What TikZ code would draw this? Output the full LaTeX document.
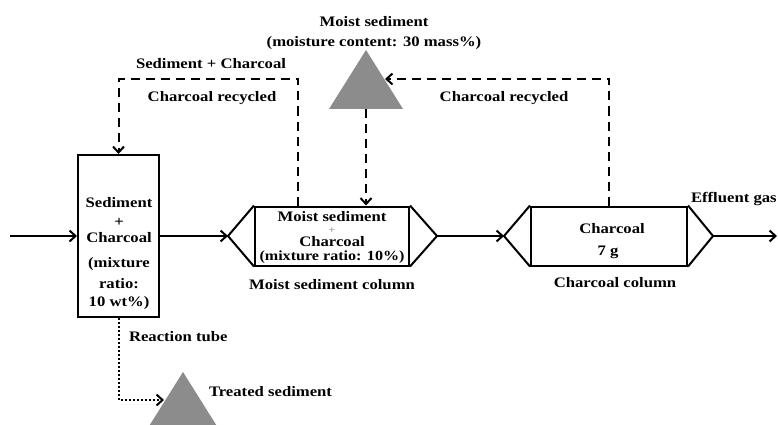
\documentclass[tikz,border=0pt]{standalone}
\usepackage{fontspec}
\setmainfont{Liberation Serif}[FakeStretch=1.15]
\usetikzlibrary{arrows.meta}
\begin{document}
\begin{tikzpicture}[x=1pt,y=-1pt,
  line width=2pt,
  arr/.style={-{Straight Barb[length=6pt,width=11pt,line width=2pt]}},
  dsh/.style={dash pattern=on 9pt off 6pt},
  dtt/.style={dash pattern=on 2pt off 2pt},
  box/.style={draw,line width=2pt,minimum height=59pt,inner sep=0pt},
  txt/.style={font=\fontsize{14.5}{16}\selectfont\bfseries,inner sep=0pt},
  tri/.style={fill=black!45,draw=none}
]
\useasboundingbox (0,0) rectangle (778,425);
\clip (0,0) rectangle (778,425);
% boxes
\node[box,minimum width=81pt,minimum height=162pt] (rt) at (118.5,236) {};
\node[box,minimum width=154pt] (mc) at (332,236) {};
\node[box,minimum width=156pt] (cc) at (609,236) {};
\coordinate (mcL) at (228,236); \coordinate (mcR) at (437,236);
\coordinate (ccL) at (504,236); \coordinate (ccR) at (713,236);
\draw (mc.north west) -- (mcL) -- (mc.south west);
\draw (mc.north east) -- (mcR) -- (mc.south east);
\draw (cc.north west) -- (ccL) -- (cc.south west);
\draw (cc.north east) -- (ccR) -- (cc.south east);
% triangles
\coordinate (msA) at (366,50); \coordinate (msB) at (366,109);
\fill[tri] (msA) -- (403,109) -- (329,109) -- cycle;
\coordinate (tsA) at (183,372);
\fill[tri] (tsA) -- (220,431) -- (146,431) -- cycle;
% connectors
\coordinate (in) at (10,236);
\coordinate (out) at (777,236);
\draw[arr] (in) -- (rt.west);
\draw[arr] (rt.east) -- (mcL);
\draw[arr] (mcR) -- (ccL);
\draw[arr] (ccR) -- (out);
\draw[arr,dsh] (msB) -- (msB |- mc.north);
\coordinate (c1) at (298,79);
\draw[arr,dsh] (c1 |- mc.north) -- (c1) -- (c1 -| rt.north) -- (rt.north);
\coordinate (c2) at (609,79); \coordinate (msE) at (385,79);
\draw[arr,dsh] (cc.north) -- (c2) -- (msE);
\coordinate (c3) at (118.5,400); \coordinate (tsE) at (164,400);
\draw[arr,dtt] (rt.south) -- (c3) -- (tsE);
% texts
\node[txt] (t1) at (374,22) {Moist sediment};
\node[txt] (t2) at (374,43) {(moisture content: 30 mass\%)};
\node[txt] (t3) at (211,64) {Sediment + Charcoal};
\node[txt] (t4) at (212,98) {Charcoal recycled};
\node[txt] (t5) at (504,98) {Charcoal recycled};
\node[txt,anchor=west] (t6) at (690,199) {Effluent gas};
\node[txt] (r1) at (119,203) {Sediment};
\node[txt] (r2) at (119,222) {+};
\node[txt] (r3) at (119,238) {Charcoal};
\node[txt] (r4) at (119,264) {(mixture};
\node[txt] (r5) at (119,284) {ratio:};
\node[txt] (r6) at (119,303) {10 wt\%)};
\node[txt] (m1) at (332,216.5) {Moist sediment};
\node[txt,font=\fontsize{10}{12}\selectfont\bfseries,text=black!40] (m2) at (332,230.5) {+};
\node[txt] (m3) at (332,242) {Charcoal};
\node[txt,font=\fontsize{14}{16}\selectfont\bfseries] (m4) at (332,257.5) {(mixture ratio: 10\%)};
\node[txt] (m5) at (332,285) {Moist sediment column};
\node[txt] (k1) at (612,229) {Charcoal};
\node[txt] (k2) at (608,252) {7 g};
\node[txt] (k3) at (615,283) {Charcoal column};
\node[txt,anchor=west] (k4) at (128,337) {Reaction tube};
\node[txt,anchor=west] (k5) at (208,392) {Treated sediment};
\end{tikzpicture}
\end{document}
